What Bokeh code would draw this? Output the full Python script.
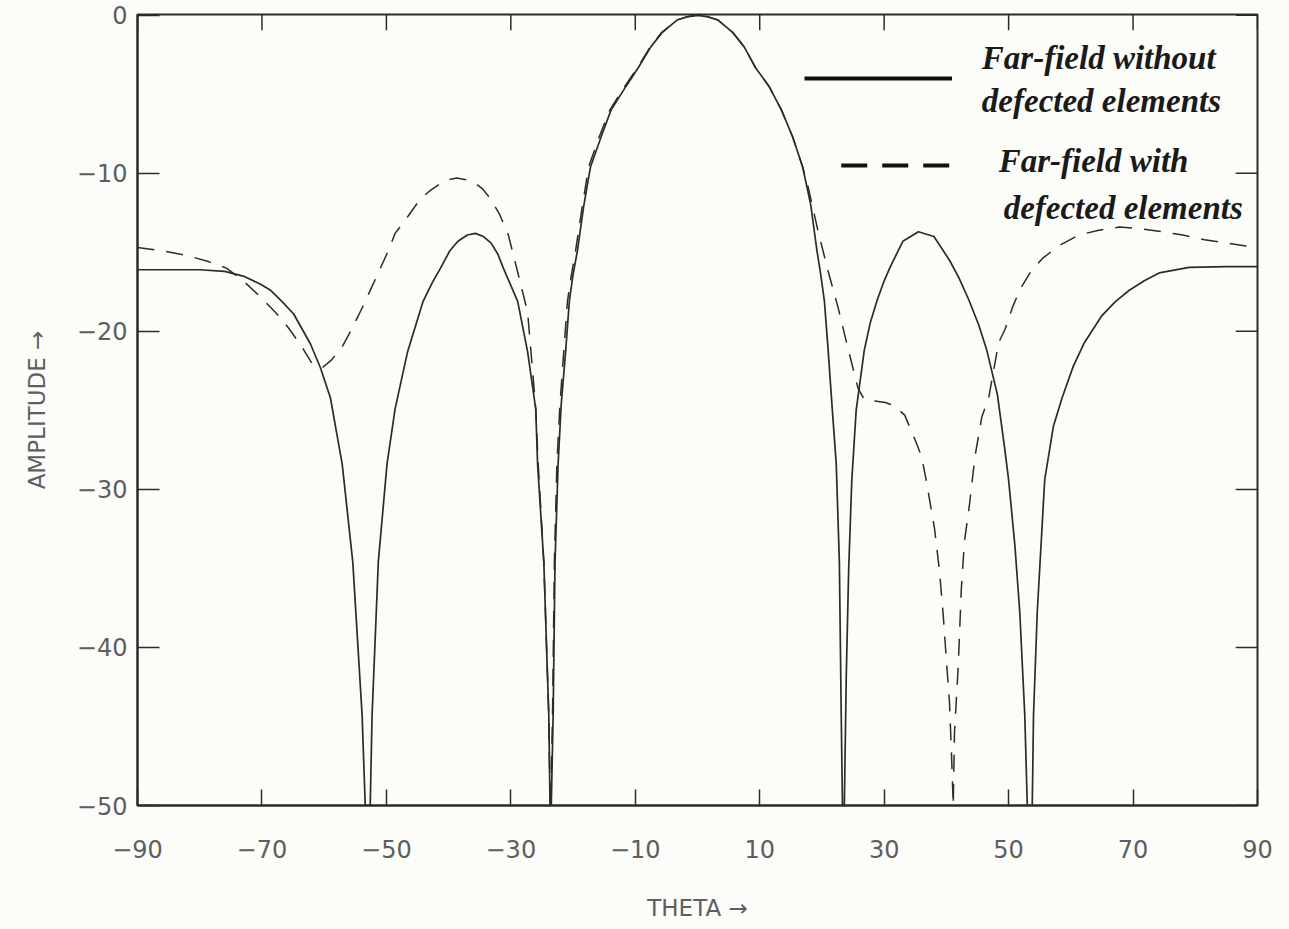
from bokeh.plotting import figure
from bokeh.models import FixedTicker, Label, Range1d
from bokeh.embed import file_html
from bokeh.resources import INLINE

# Far-field amplitude (dB) versus angle theta (degrees)
theta_ideal = [
    -90, -85, -80, -76, -73, -70.3, -68.6, -66.8, -64.9, -62.2, -60.6, -59.0,
    -57.1, -55.4, -53.9, -53.4, -52.6, -52.3, -51.3, -49.9, -48.6, -46.6,
    -44.1, -42.6, -41.3, -39.8, -38.5, -37.0, -35.7, -34.4, -33.2, -32.1,
    -31.2, -28.9, -27.3, -26.0, -25.7, -24.7, -23.9, -23.7, -23.5, -23.2,
    -22.9, -22.4, -21.9, -21.2, -20.6, -20.0, -19.3, -18.3, -17.2, -15.5,
    -13.9, -11.5, -9.5, -7.5, -5.7, -3.3, -1.5, 0, 1.5, 3.3, 5.7, 7.5, 9.3,
    11.5, 13.5, 15.3, 16.9, 18.2, 19.2, 19.8, 20.4, 21.0, 21.6, 22.3, 22.8,
    23.1, 23.3, 23.6, 23.9, 24.3, 24.8, 25.5, 26.8, 27.8, 28.9, 30.0, 31.0,
    33.0, 35.5, 38.0, 40.5, 42.0, 43.6, 45.2, 46.5, 48.2, 49.4, 50.0, 51.0,
    51.8, 52.6, 53.0, 53.8, 54.0, 54.6, 55.8, 57.2, 58.6, 60.4, 62.2, 65.0,
    67.2, 69.4, 71.8, 74.2, 79.0, 85, 90,
]
amp_ideal = [
    -16.1, -16.1, -16.1, -16.2, -16.5, -17.0, -17.4, -18.1, -18.9, -20.8,
    -22.3, -24.2, -28.4, -34.6, -44.3, -50, -50, -44.3, -34.6, -28.4, -24.9,
    -21.3, -18.1, -16.9, -16.0, -14.9, -14.3, -13.9, -13.8, -14.0, -14.4,
    -15.1, -16.0, -18.1, -21.3, -24.9, -28.4, -34.6, -44.3, -50, -50, -44.3,
    -34.6, -28.4, -24.6, -21.3, -18.1, -16.4, -14.9, -12.1, -9.6, -7.7,
    -6.0, -4.5, -3.3, -2.0, -1.1, -0.3, -0.08, 0, -0.08, -0.3, -1.1, -2.0,
    -3.3, -4.5, -6.0, -7.7, -9.6, -12.0, -14.9, -16.4, -18.1, -21.2, -24.6,
    -28.4, -34.6, -44.3, -50, -50, -42.0, -35.0, -29.4, -25.0, -21.2, -19.4,
    -18.0, -16.8, -15.9, -14.3, -13.7, -14.0, -15.5, -16.6, -18.0, -19.6,
    -21.2, -24.0, -27.5, -29.4, -33.5, -37.8, -44.3, -50, -50, -44.3, -37.8,
    -29.4, -26.0, -24.2, -22.2, -20.7, -19.0, -18.1, -17.4, -16.8, -16.3,
    -15.95, -15.9, -15.9,
]

theta_defect = [
    -90, -86, -82, -78.5, -75.7, -73, -70.3, -67.8, -65.7, -63.7, -62.0,
    -60.3, -58.8, -57.0, -55.5, -54.0, -52.7, -51.2, -49.8, -48.6, -46.5,
    -44.5, -43.0, -41.5, -40.0, -38.7, -37.2, -35.8, -34.5, -33.3, -31.8,
    -30.4, -28.8, -27.3, -26.5, -26.0, -25.6, -24.7, -23.9, -23.7, -23.6,
    -23.3, -23.0, -22.6, -22.1, -21.5, -20.9, -20.3, -19.6, -18.6, -17.5,
    -15.8, -14.1, -11.7, -9.6, -7.6, -5.8, -3.3, -1.5, 0, 1.5, 3.3, 5.7,
    7.5, 9.3, 11.5, 13.5, 15.3, 16.9, 17.8, 19.4, 21.0, 22.6, 24.2, 25.8,
    26.8, 28.5, 30.2, 31.6, 33.3, 34.9, 36.0, 36.8, 38.1, 38.9, 39.5, 40.0,
    40.5, 40.8, 41.1, 41.3, 41.9, 42.4, 42.9, 43.7, 44.6, 45.7, 46.8, 48.4,
    49.4, 50.6, 51.9, 53.6, 55.4, 58.0, 61.3, 64.5, 67.8, 71.2, 74.7, 78.0,
    81.5, 85.0, 88.1, 90,
]
amp_defect = [
    -14.7, -14.9, -15.2, -15.6, -16.0, -16.8, -17.8, -18.8, -19.8, -20.9,
    -22.0, -22.3, -21.8, -20.9, -19.8, -18.6, -17.5, -16.2, -15.0, -13.8,
    -12.7, -11.6, -11.1, -10.7, -10.4, -10.3, -10.4, -10.6, -11.0, -11.6,
    -12.6, -13.9, -16.4, -18.8, -22.5, -24.9, -28.4, -34.6, -44.3, -50, -50,
    -44.3, -34.6, -28.4, -24.6, -21.3, -18.1, -16.5, -14.9, -12.3, -9.6,
    -7.7, -6.0, -4.5, -3.3, -2.0, -1.1, -0.3, -0.08, 0, -0.08, -0.3, -1.1,
    -2.0, -3.3, -4.5, -6.0, -7.7, -9.6, -10.9, -13.7, -16.2, -18.5, -21.1,
    -23.6, -24.3, -24.4, -24.5, -24.7, -25.3, -26.8, -27.9, -29.5, -32.5,
    -35.2, -38.0, -40.8, -43.5, -46.5, -50, -45.4, -41.2, -36.3, -33.3,
    -31.0, -27.9, -25.4, -24.2, -20.7, -19.9, -18.5, -17.3, -16.2, -15.4,
    -14.6, -13.9, -13.6, -13.4, -13.5, -13.7, -13.9, -14.2, -14.4, -14.6,
    -14.7,
]

x_ticks = [-90, -70, -50, -30, -10, 10, 30, 50, 70, 90]
y_ticks = [0, -10, -20, -30, -40, -50]

ink = "#2b2b2b"
grey = "#5e5e5e"
paper = "#fcfcf9"

X_LO, X_HI = -90, 90
Y_LO, Y_HI = -50, 0.05

p = figure(
    width=1289, height=929,
    x_range=Range1d(X_LO, X_HI), y_range=Range1d(Y_LO, Y_HI),
    output_backend="svg", toolbar_location=None,
    min_border_left=137, min_border_right=32,
    min_border_top=14, min_border_bottom=124,
    background_fill_color=paper, border_fill_color=paper,
)
p.grid.visible = False
p.outline_line_color = ink
p.outline_line_width = 2

p.line(theta_ideal, amp_ideal, line_color=ink, line_width=1.7)
p.line(theta_defect, amp_defect, line_color=ink, line_width=1.5,
       line_dash="17 12")

xb = p.xaxis[0]
yl = p.yaxis[0]
for ax, ticks, tick_len in ((xb, x_ticks, 16), (yl, y_ticks, 22)):
    ax.ticker = FixedTicker(ticks=ticks)
    ax.major_tick_in = tick_len
    ax.major_tick_out = 0
    ax.minor_tick_line_color = None
    ax.major_tick_line_color = ink
    ax.major_tick_line_width = 1.5
    ax.axis_line_color = ink
    ax.axis_line_width = 2
    ax.major_label_text_font = "DejaVu Sans"
    ax.major_label_text_font_size = "24px"
    ax.major_label_text_color = grey
    ax.axis_label_text_font = "DejaVu Sans"
    ax.axis_label_text_font_size = "23px"
    ax.axis_label_text_font_style = "normal"
    ax.axis_label_text_color = grey
xb.major_label_standoff = 34
yl.major_label_standoff = 10
xb.axis_label = "THETA \u2192"
yl.axis_label = "AMPLITUDE \u2192"
xb.axis_label_standoff = 34
yl.axis_label_standoff = 24

# Inward ticks mirrored on the top and right edges of the frame
x_tick_len = 1.0   # in amplitude units (about 16 px)
y_tick_len = 3.5   # in theta units (about 22 px)
p.segment(x0=x_ticks, y0=[Y_HI] * len(x_ticks),
          x1=x_ticks, y1=[Y_HI - x_tick_len] * len(x_ticks),
          line_color=ink, line_width=1.5)
p.segment(x0=[X_HI] * len(y_ticks), y0=y_ticks,
          x1=[X_HI - y_tick_len] * len(y_ticks), y1=y_ticks,
          line_color=ink, line_width=1.5)

# Legend: sample strokes and two-line captions
p.line([17.2, 40.9], [-4.0, -4.0], line_color="#111", line_width=4)
p.line([23.1, 40.5], [-9.5, -9.5], line_color="#111", line_width=4,
       line_dash="26 15")

captions = [
    ("Far-field without", 45.7, -2.7),
    ("defected elements", 45.7, -5.4),
    ("Far-field with", 48.4, -9.2),
    ("defected elements", 49.2, -12.2),
]
for txt, cx, cy in captions:
    p.add_layout(Label(
        x=cx, y=cy, text=txt,
        text_font="Liberation Serif", text_font_style="bold italic",
        text_font_size="33px", text_color="#1a1a1a",
        text_baseline="middle", text_align="left",
    ))

open("out.html", "w").write(file_html(p, INLINE))
